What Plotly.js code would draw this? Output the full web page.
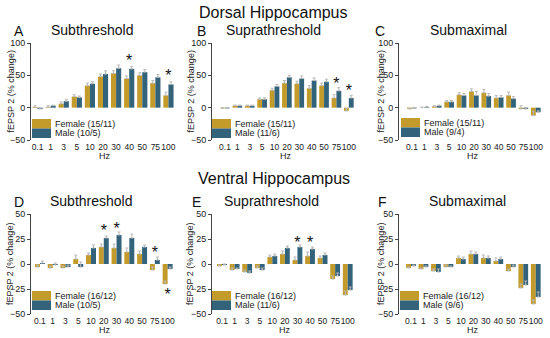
<!DOCTYPE html>
<html><head><meta charset="utf-8">
<script src="https://cdn.plot.ly/plotly-3.0.1.min.js"></script>
<style>
html,body{margin:0;padding:0;background:#fff}
#wrap{position:relative;width:550px;height:338px;background:#fff}
.pnl{position:absolute;left:0;top:0;width:550px;height:338px}
</style>
</head><body><div id="wrap">
<div class="pnl" id="p0"></div><div class="pnl" id="p1"></div><div class="pnl" id="p2"></div>
<div class="pnl" id="p3"></div><div class="pnl" id="p4"></div><div class="pnl" id="p5"></div>
</div>
<script>
// ---------- DATA ----------
const hz = ['0.1','1','3','5','10','20','30','40','50','75','100'];

// Dorsal Hippocampus
const dSubF  = [1, 1, 6, 17, 34, 48, 53, 45, 50, 38, 19];
const dSubM  = [-2, 3, 10, 16, 37, 52, 61, 60, 55, 47, 36];
const dSubFe = [2, 2, 3, 3, 4, 4, 4, 4, 4, 4, 5];
const dSubMe = [1, 1, 3, 2, 3, 5, 5, 4, 4, 4, 4];
const dSupF  = [-1, 3, 3, 13, 27, 38, 37, 30, 34, 15, -5];
const dSupM  = [-1, 3, 3, 13, 33, 47, 45, 42, 40, 26, 15];
const dSupFe = [1, 1, 1, 2, 3, 4, 4, 4, 4, 5, 4];
const dSupMe = [1, 1, 1, 2, 3, 3, 4, 4, 4, 5, 4];
const dMaxF  = [-2, 0, 2, 9, 20, 25, 23, 15, 19, -2, -12];
const dMaxM  = [-1, 1, 3, 9, 19, 19, 18, 16, 14, -2, -7];
const dMaxFe = [1, 1, 1, 2, 3, 4, 5, 4, 5, 5, 6];
const dMaxMe = [1, 1, 1, 2, 3, 6, 4, 3, 3, 2, 2];

// Ventral Hippocampus
const vSubF  = [-3, -4, -4, 5, 9, 17, 16, 12, 10, -6, -20];
const vSubM  = [1, -1, -3, -3, 16, 26, 29, 26, 17, 4, -5];
const vSubFe = [2, 2, 2, 4, 2, 3, 4, 4, 3, 3, 3];
const vSubMe = [2, 2, 2, 5, 3, 2, 3, 4, 2, 3, 2];
const vSupF  = [-2, -6, -8, -4, 7, 10, 4, 8, 6, -15, -31];
const vSupM  = [-1, -5, -9, -6, 8, 16, 17, 15, 9, -12, -26];
const vSupFe = [1, 2, 2, 2, 2, 3, 3, 4, 2, 3, 4];
const vSupMe = [1, 1, 2, 2, 2, 2, 2, 2, 2, 3, 3];
const vMaxF  = [-4, -5, -7, -3, 6, 10, 6, 3, -7, -24, -40];
const vMaxM  = [-2, -3, -8, -3, 5, 10, 6, 5, -3, -21, -33];
const vMaxFe = [1, 1, 2, 2, 2, 3, 3, 3, 2, 4, 4];
const vMaxMe = [1, 1, 3, 1, 2, 2, 2, 2, 2, 4, 5];

// significance stars (category, anchor height)
const starsA_x = ['40','100'];           const starsA_y = [70, 47];
const starsB_x = ['75','100'];           const starsB_y = [35, 25];
const starsD_x = ['20','30','75','100']; const starsD_y = [32, 34, 10, -32];
const starsE_x = ['30','40'];            const starsE_y = [20, 20];

const legF = ['Female (15/11)','Female (15/11)','Female (15/11)','Female (16/12)','Female (16/12)','Female (16/12)'];
const legM = ['Male (10/5)','Male (11/6)','Male (9/4)','Male (10/5)','Male (11/6)','Male (9/6)'];

const topTicks = [-50, 0, 50, 100];
const botTicks = [-50, -25, 0, 25, 50];

// ---------- STYLE / LAYOUT ----------
const W = 550, H = 338;
const fx = p => p / W, fy = p => 1 - p / H;
const cF = '#C39B2B', cM = '#33627B', cErr = '#b9b9b9';
const FONT = 'Liberation Sans, Arial, sans-serif';

const panels = [
  {F:dSubF,M:dSubM,Fe:dSubFe,Me:dSubMe,sx:starsA_x,sy:starsA_y,x0:31,x1:175,rng:[-0.5,10.5],y0:43,y1:140,yr:[-50,100],tk:topTicks,letter:'A',lx:19,sub:'Subthreshold',sbx:92,ytx:10,legx:32,legy:119},
  {F:dSupF,M:dSupM,Fe:dSupFe,Me:dSupMe,sx:starsB_x,sy:starsB_y,x0:212,x1:355,rng:[-1.05,10.5],y0:43,y1:140,yr:[-50,100],tk:topTicks,letter:'B',lx:201,sub:'Suprathreshold',sbx:273,ytx:190,legx:212,legy:119},
  {F:dMaxF,M:dMaxM,Fe:dMaxFe,Me:dMaxMe,sx:[],sy:[],x0:399,x1:542,rng:[-1.05,10.5],y0:43,y1:140,yr:[-50,100],tk:topTicks,letter:'C',lx:380,sub:'Submaximal',sbx:468,ytx:380,legx:401,legy:118},
  {F:vSubF,M:vSubM,Fe:vSubFe,Me:vSubMe,sx:starsD_x,sy:starsD_y,x0:31,x1:174,rng:[-0.7,10.5],y0:214,y1:314,yr:[-50,50],tk:botTicks,letter:'D',lx:19,sub:'Subthreshold',sbx:91,ytx:10,legx:32,legy:291},
  {F:vSupF,M:vSupM,Fe:vSupFe,Me:vSupMe,sx:starsE_x,sy:starsE_y,x0:212,x1:354,rng:[-0.8,10.5],y0:214,y1:314,yr:[-50,50],tk:botTicks,letter:'E',lx:196,sub:'Suprathreshold',sbx:271,ytx:190,legx:212,legy:291},
  {F:vMaxF,M:vMaxM,Fe:vMaxFe,Me:vMaxMe,sx:[],sy:[],x0:399,x1:542,rng:[-0.96,10.5],y0:214,y1:314,yr:[-50,50],tk:botTicks,letter:'F',lx:382,sub:'Submaximal',sbx:467,ytx:381,legx:400,legy:291}
];

const err = arr => ({type:'data', array:arr, symmetric:false, arrayminus:arr.map(()=>0), color:cErr, thickness:1, width:1.5});

panels.forEach((p, i) => {
  const traces = [
    {type:'bar', x:hz, y:p.F, name:legF[i], marker:{color:cF}, error_y: err(p.Fe)},
    {type:'bar', x:hz, y:p.M, name:legM[i], marker:{color:cM}, error_y: err(p.Me)}
  ];
  if (p.sx.length) traces.push({type:'scatter', mode:'text', x:p.sx, y:p.sy, text:p.sx.map(() => '*'),
    textposition:'middle center', textfont:{size:16, color:'#111'}, cliponaxis:false, hoverinfo:'skip'});

  const annotations = [], shapes = [];
  annotations.push({xref:'paper', yref:'paper', x:fx(p.lx), y:fy(p.y0 - 12), text:p.letter, showarrow:false,
    font:{size:14, color:'#111'}, xanchor:'center', yanchor:'middle'});
  annotations.push({xref:'paper', yref:'paper', x:fx(p.sbx), y:fy(p.y0 - 13), text:p.sub, showarrow:false,
    font:{size:14, color:'#111'}, xanchor:'center', yanchor:'middle'});
  annotations.push({xref:'paper', yref:'paper', x:fx(p.ytx), y:fy((p.y0 + p.y1) / 2), text:'fEPSP 2 (% change)',
    textangle:-90, showarrow:false, font:{size:9, color:'#222'}, xanchor:'center', yanchor:'middle'});
  annotations.push({xref:'paper', yref:'paper', x:fx((p.x0 + p.x1) / 2 + 2), y:fy(p.y1 + 16), text:'Hz', showarrow:false,
    font:{size:9, color:'#222'}, xanchor:'center', yanchor:'middle'});
  const sw = 19, sh = 9.5;
  [[cF, legF[i], 0], [cM, legM[i], 1]].forEach(([col, lab, r]) => {
    const top = p.legy + r * sh;
    shapes.push({type:'rect', xref:'paper', yref:'paper', x0:fx(p.legx), x1:fx(p.legx + sw),
      y0:fy(top + sh), y1:fy(top), fillcolor:col, line:{width:0}});
    annotations.push({xref:'paper', yref:'paper', x:fx(p.legx + sw + 2), y:fy(top + sh / 2), text:lab,
      showarrow:false, font:{size:9, color:'#222'}, xanchor:'left', yanchor:'middle'});
  });
  if (i === 0) {
    annotations.push({xref:'paper', yref:'paper', x:fx(273), y:fy(13), text:'Dorsal Hippocampus', showarrow:false,
      font:{size:16, color:'#111'}, xanchor:'center', yanchor:'middle'});
    annotations.push({xref:'paper', yref:'paper', x:fx(274), y:fy(178), text:'Ventral Hippocampus', showarrow:false,
      font:{size:16, color:'#111'}, xanchor:'center', yanchor:'middle'});
  }

  const layout = {
    width: W, height: H, margin: {l:0, r:0, t:0, b:0},
    paper_bgcolor: 'rgba(0,0,0,0)', plot_bgcolor: 'rgba(0,0,0,0)',
    font: {family: FONT, color: '#222', size: 9},
    showlegend: false, barmode: 'group', bargap: 0.22, bargroupgap: 0,
    xaxis: {domain:[fx(p.x0), fx(p.x1)], anchor:'y', type:'category', range:p.rng, tickangle:0,
      showline:false, ticks:'', showgrid:false, zeroline:false, tickfont:{size:8.5, color:'#222'}},
    yaxis: {domain:[fy(p.y1), fy(p.y0)], anchor:'x', range:p.yr, tickvals:p.tk,
      showline:true, linecolor:'#444', linewidth:1, ticks:'outside', ticklen:3, tickcolor:'#444',
      showgrid:false, gridcolor:'rgba(0,0,0,0)', zeroline:false, tickfont:{size:9, color:'#222'}},
    annotations: annotations, shapes: shapes
  };
  Plotly.newPlot('p' + i, traces, layout, {staticPlot:true}).then(gd =>
    Plotly.relayout(gd, {'yaxis.showgrid': true, 'yaxis.gridcolor': 'rgba(0,0,0,0)'}));
});
</script></body></html>
